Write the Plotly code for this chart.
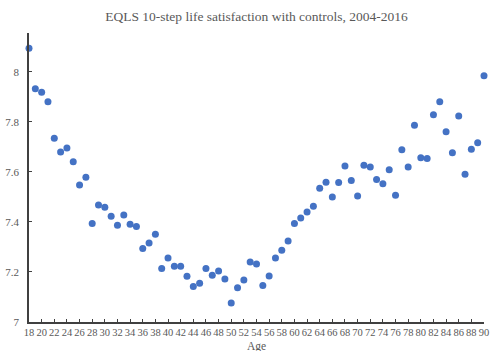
import plotly.graph_objects as go

ages = list(range(18, 91))
satisfaction = [
    8.094, 7.932, 7.918, 7.880, 7.734, 7.679, 7.695, 7.640, 7.548, 7.578,  # 18-27
    7.394, 7.468, 7.459, 7.423, 7.387, 7.428, 7.391, 7.382, 7.294, 7.316,  # 28-37
    7.351, 7.214, 7.256, 7.223, 7.223, 7.183, 7.142, 7.155, 7.214, 7.187,  # 38-47
    7.204, 7.172, 7.076, 7.137, 7.168, 7.240, 7.232, 7.146, 7.184, 7.256,  # 48-57
    7.287, 7.324, 7.394, 7.416, 7.440, 7.463, 7.535, 7.559, 7.500, 7.558,  # 58-67
    7.623, 7.566, 7.504, 7.626, 7.619, 7.570, 7.553, 7.608, 7.507, 7.688,  # 68-77
    7.619, 7.786, 7.656, 7.653, 7.828, 7.880, 7.760, 7.676, 7.823, 7.590,  # 78-87
    7.690, 7.716, 7.984,                                                   # 88-90
]
x_ticks = list(range(18, 91, 2))
y_ticks = [7, 7.2, 7.4, 7.6, 7.8, 8]
y_tick_labels = ["7", "7.2", "7.4", "7.6", "7.8", "8"]

font_family = "Liberation Serif, Times New Roman, serif"
gray = "#595959"

fig = go.Figure(go.Scatter(
    x=ages, y=satisfaction, mode="markers", cliponaxis=False,
    marker=dict(color="#4472C4", size=7, line=dict(width=0)),
))

fig.update_layout(
    width=500, height=351,
    margin=dict(l=29, r=16, t=33, b=29),
    paper_bgcolor="white", plot_bgcolor="white",
    showlegend=False,
    title=dict(text="EQLS 10-step life satisfaction with controls, 2004-2016",
               x=0.513, xanchor="center", y=0.955, yanchor="middle",
               font=dict(family=font_family, size=13.5, color=gray)),
    font=dict(family=font_family, color=gray),
    annotations=[dict(text="Age", xref="paper", yref="paper", x=0.5, y=0,
                      xanchor="center", yanchor="middle", yshift=-24, showarrow=False,
                      font=dict(family=font_family, size=11.5, color=gray))],
)
fig.update_xaxes(
    range=[18, 90], tickvals=x_ticks, ticktext=[str(v) for v in x_ticks],
    tickangle=0, automargin=False,
    showgrid=False, zeroline=False, showline=True, linecolor="#404040", linewidth=1.5,
    ticks="inside", ticklen=3, tickcolor="#404040", tickwidth=1,
    ticklabelstandoff=0,
    tickfont=dict(family=font_family, size=10.5, color=gray),
)
fig.update_yaxes(
    range=[7, 8.155], tickvals=y_ticks, ticktext=y_tick_labels, automargin=False,
    showgrid=False, zeroline=False, showline=True, linecolor="#404040", linewidth=1.5,
    ticks="inside", ticklen=3, tickcolor="#404040", tickwidth=1,
    ticklabelstandoff=6,
    tickfont=dict(family=font_family, size=11, color=gray),
)

fig.write_html("out.html")
